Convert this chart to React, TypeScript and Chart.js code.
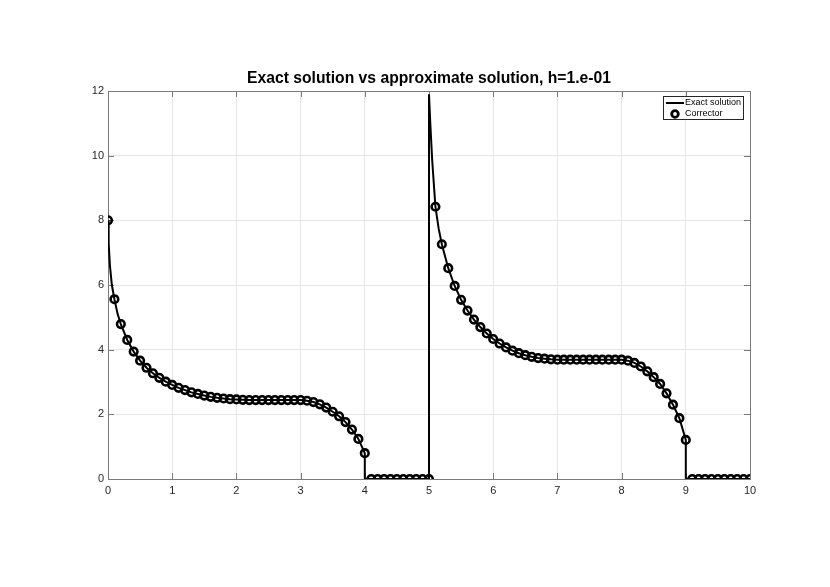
import React, { useEffect, useRef } from "react";
import { Chart, registerables } from "chart.js";

Chart.register(...registerables);

const TITLE = "Exact solution vs approximate solution, h=1.e-01";
const LEGEND_LABELS = ["Exact solution", "Corrector"];
const X_TICKS = [0, 1, 2, 3, 4, 5, 6, 7, 8, 9, 10];
const Y_TICKS = [0, 2, 4, 6, 8, 10, 12];

// Corrector (approximate solution) samples
const xCorr = [
  0.0, 0.1, 0.2, 0.3, 0.4, 0.5, 0.6, 0.7, 0.8, 0.9,
  1.0, 1.1, 1.2, 1.3, 1.4, 1.5, 1.6, 1.7, 1.8, 1.9,
  2.0, 2.1, 2.2, 2.3, 2.4, 2.5, 2.6, 2.7, 2.8, 2.9,
  3.0, 3.1, 3.2, 3.3, 3.4, 3.5, 3.6, 3.7, 3.8, 3.9,
  4.0, 4.1, 4.2, 4.3, 4.4, 4.5, 4.6, 4.7, 4.8, 4.9,
  5.0, 5.1, 5.2, 5.3, 5.4, 5.5, 5.6, 5.7, 5.8, 5.9,
  6.0, 6.1, 6.2, 6.3, 6.4, 6.5, 6.6, 6.7, 6.8, 6.9,
  7.0, 7.1, 7.2, 7.3, 7.4, 7.5, 7.6, 7.7, 7.8, 7.9,
  8.0, 8.1, 8.2, 8.3, 8.4, 8.5, 8.6, 8.7, 8.8, 8.9,
  9.0, 9.1, 9.2, 9.3, 9.4, 9.5, 9.6, 9.7, 9.8, 9.9,
  10.0,
];
const yCorr = [
  8.0, 5.56, 4.79, 4.30, 3.94, 3.66, 3.44, 3.27, 3.13, 3.01,
  2.91, 2.82, 2.75, 2.68, 2.63, 2.58, 2.54, 2.51, 2.49, 2.47,
  2.46, 2.45, 2.44, 2.44, 2.44, 2.44, 2.44, 2.44, 2.44, 2.44,
  2.44, 2.42, 2.38, 2.31, 2.21, 2.08, 1.94, 1.76, 1.53, 1.24,
  0.80, 0, 0, 0, 0, 0, 0, 0, 0, 0,
  0, 8.42, 7.26, 6.52, 5.97, 5.54, 5.21, 4.93, 4.70, 4.50,
  4.33, 4.19, 4.07, 3.97, 3.89, 3.83, 3.78, 3.74, 3.72, 3.70,
  3.69, 3.69, 3.69, 3.69, 3.69, 3.69, 3.69, 3.69, 3.69, 3.69,
  3.69, 3.66, 3.59, 3.48, 3.33, 3.15, 2.94, 2.65, 2.30, 1.88,
  1.21, 0, 0, 0, 0, 0, 0, 0, 0, 0,
  0,
];

// Exact solution samples (denser near the singular points)
const xExact = [
  0.0, 0.01, 0.03, 0.06, 0.1, 0.15, 0.2, 0.3, 0.4, 0.5, 0.6, 0.7, 0.8, 0.9,
  1.0, 1.1, 1.2, 1.3, 1.4, 1.5, 1.6, 1.7, 1.8, 1.9, 2.0, 2.2, 2.5, 2.8,
  3.0, 3.1, 3.2, 3.3, 3.4, 3.5, 3.6, 3.7, 3.8, 3.9, 4.0, 4.0,
  5.0, 5.0, 5.02, 5.05, 5.1, 5.15, 5.2, 5.3, 5.4, 5.5, 5.6, 5.7, 5.8, 5.9,
  6.0, 6.1, 6.2, 6.3, 6.4, 6.5, 6.6, 6.7, 6.8, 6.9, 7.0, 7.5, 8.0,
  8.1, 8.2, 8.3, 8.4, 8.5, 8.6, 8.7, 8.8, 8.9, 9.0, 9.0, 10.0,
];
const yExact = [
  8.0, 7.3, 6.6, 6.0, 5.56, 5.1, 4.79, 4.30, 3.94, 3.66, 3.44, 3.27, 3.13, 3.01,
  2.91, 2.82, 2.75, 2.68, 2.63, 2.58, 2.54, 2.51, 2.49, 2.47, 2.46, 2.44, 2.44, 2.44,
  2.44, 2.42, 2.38, 2.31, 2.21, 2.08, 1.94, 1.76, 1.53, 1.24, 0.80, 0,
  0, 11.9, 11.0, 9.85, 8.42, 7.75, 7.26, 6.52, 5.97, 5.54, 5.21, 4.93, 4.70, 4.50,
  4.33, 4.19, 4.07, 3.97, 3.89, 3.83, 3.78, 3.74, 3.72, 3.70, 3.69, 3.69, 3.69,
  3.66, 3.59, 3.48, 3.33, 3.15, 2.94, 2.65, 2.30, 1.88, 1.21, 0, 0,
];

const FONT = "'Liberation Sans', Arial, Helvetica, sans-serif";
const AXIS_COLOR = "#7a7a7a";
const GRID_COLOR = "#e6e6e6";
const TEXT_COLOR = "#262626";

const matlabPlugin = {
  id: "matlabDecor",
  beforeDatasetsDraw(chart: any) {
    const { ctx, chartArea } = chart;
    const { left, right, top, bottom } = chartArea;
    const xs = chart.scales.x;
    const ys = chart.scales.y;
    ctx.save();
    ctx.strokeStyle = AXIS_COLOR;
    ctx.lineWidth = 1;
    const tl = 6;
    ctx.beginPath();
    X_TICKS.forEach((t) => {
      const px = Math.round(xs.getPixelForValue(t)) + 0.5;
      ctx.moveTo(px, bottom);
      ctx.lineTo(px, bottom - tl);
      ctx.moveTo(px, top);
      ctx.lineTo(px, top + tl);
    });
    Y_TICKS.forEach((t) => {
      const py = Math.round(ys.getPixelForValue(t)) + 0.5;
      ctx.moveTo(left, py);
      ctx.lineTo(left + tl, py);
      ctx.moveTo(right, py);
      ctx.lineTo(right - tl, py);
    });
    ctx.stroke();
    ctx.strokeRect(Math.round(left) + 0.5, Math.round(top) + 0.5, Math.round(right - left), Math.round(bottom - top));
    ctx.restore();
  },
  afterDraw(chart: any) {
    const { ctx, chartArea } = chart;
    ctx.save();
    // Title
    ctx.fillStyle = "#000";
    ctx.font = `bold 15.7px ${FONT}`;
    ctx.textAlign = "center";
    ctx.textBaseline = "alphabetic";
    ctx.fillText(TITLE, (chartArea.left + chartArea.right) / 2, 83);

    // Legend box
    const bx = 663.5, by = 96.5, bw = 80, bh = 23;
    ctx.fillStyle = "#fff";
    ctx.fillRect(bx, by, bw, bh);
    ctx.strokeStyle = "#262626";
    ctx.lineWidth = 1;
    ctx.strokeRect(bx, by, bw, bh);
    // Line sample
    ctx.strokeStyle = "#000";
    ctx.lineWidth = 2;
    ctx.beginPath();
    ctx.moveTo(666, 103);
    ctx.lineTo(684, 103);
    ctx.stroke();
    // Marker sample
    ctx.lineWidth = 2.8;
    ctx.beginPath();
    ctx.arc(675, 114, 3.3, 0, Math.PI * 2);
    ctx.stroke();
    ctx.fillStyle = "#000";
    ctx.font = `9px ${FONT}`;
    ctx.textAlign = "left";
    ctx.textBaseline = "middle";
    ctx.fillText(LEGEND_LABELS[0], 685, 103);
    ctx.fillText(LEGEND_LABELS[1], 685, 114);
    ctx.restore();
  },
};

export default function App() {
  const canvasRef = useRef<HTMLCanvasElement | null>(null);

  useEffect(() => {
    document.body.style.margin = "0";
    const canvas = canvasRef.current;
    if (!canvas) return;
    const exactData = xExact.map((x, i) => ({ x, y: yExact[i] }));
    const corrData = xCorr.map((x, i) => ({ x, y: yCorr[i] }));
    const chart = new Chart(canvas, {
      type: "scatter",
      data: {
        datasets: [
          {
            label: LEGEND_LABELS[0],
            data: exactData,
            showLine: true,
            borderColor: "#000",
            borderWidth: 2,
            pointRadius: 0,
            tension: 0,
            order: 2,
          },
          {
            label: LEGEND_LABELS[1],
            data: corrData,
            showLine: false,
            pointStyle: "circle",
            pointRadius: 3.8,
            pointBorderWidth: 2.6,
            pointBorderColor: "#000",
            pointBackgroundColor: "rgba(0,0,0,0)",
            order: 1,
          },
        ],
      },
      options: {
        responsive: false,
        animation: false,
        layout: { padding: { left: 0, right: 80, top: 91, bottom: 0 } },
        plugins: {
          legend: { display: false },
          title: { display: false },
          tooltip: { enabled: false },
        },
        scales: {
          x: {
            type: "linear",
            min: 0,
            max: 10,
            afterFit: (s: any) => {
              s.height = 108;
            },
            afterBuildTicks: (s: any) => {
              s.ticks = X_TICKS.map((v) => ({ value: v }));
            },
            ticks: {
              color: TEXT_COLOR,
              font: { family: FONT, size: 11 },
              padding: 5,
              maxRotation: 0,
              callback: (v: any) => String(v),
            },
            grid: { color: GRID_COLOR, drawTicks: false, lineWidth: 1 },
            border: { display: false },
          },
          y: {
            type: "linear",
            min: 0,
            max: 12,
            afterFit: (s: any) => {
              s.width = 108;
            },
            afterBuildTicks: (s: any) => {
              s.ticks = Y_TICKS.map((v) => ({ value: v }));
            },
            ticks: {
              color: TEXT_COLOR,
              font: { family: FONT, size: 11 },
              padding: 4,
              callback: (v: any) => String(v),
            },
            grid: { color: GRID_COLOR, drawTicks: false, lineWidth: 1 },
            border: { display: false },
          },
        },
      },
      plugins: [matlabPlugin],
    });
    return () => chart.destroy();
  }, []);

  return (
    <div style={{ width: 830, height: 587, background: "#fff" }}>
      <canvas ref={canvasRef} width={830} height={587} style={{ display: "block" }} />
    </div>
  );
}
